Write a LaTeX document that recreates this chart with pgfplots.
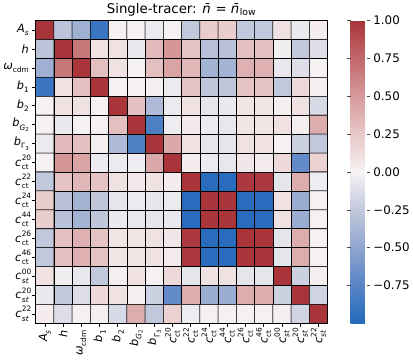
\documentclass[border=0pt]{standalone}
\usepackage{amsmath}
\usepackage{fontspec}
\setmainfont{DejaVu Sans}
\usepackage{pgfplots}
\pgfplotsset{compat=1.18}

% c with stacked super- and subscript, kept compact so labels fit their cells
\newcommand{\ssz}{\fontsize{7.5}{7.5}\selectfont}
\newcommand{\ct}[1]{\textit{c}\kern0.4pt\rlap{\raisebox{0.95ex}{\ssz #1}}\raisebox{-0.55ex}{\ssz ct}}
\newcommand{\st}[1]{\textit{c}\kern0.4pt\rlap{\raisebox{0.95ex}{\ssz #1}}\raisebox{-0.55ex}{\ssz\itshape st}}
\newcommand{\sub}[1]{\raisebox{-0.55ex}{\ssz #1}}

\begin{document}
\begin{tikzpicture}
\begin{axis}[
  scale only axis,
  width=296pt, height=307pt,
  xmin=-0.5, xmax=15.5, ymin=-0.5, ymax=15.5,
  y dir=reverse,
  enlargelimits=false,
  axis line style={line width=1.3pt},
  tick align=outside, tick pos=left,
  major tick length=3.5pt,
  tick style={black, line width=0.6pt},
  xtick={0,...,15}, ytick={0,...,15},
  xticklabels={\textit{A}\sub{\itshape s}, \textit{h}, \textit{ω}\sub{cdm},
    \textit{b}\sub{1}, \textit{b}\sub{2}, \textit{b}\sub{\itshape G\raisebox{-0.3ex}{\fontsize{5.5}{5.5}\selectfont\upshape 2}},
    \textit{b}\sub{Γ\raisebox{-0.3ex}{\fontsize{5.5}{5.5}\selectfont 3}}, \ct{20}, \ct{22}, \ct{24}, \ct{44}, \ct{26}, \ct{46},
    \st{00}, \st{20}, \st{22}},
  yticklabels={\textit{A}\sub{\itshape s}, \textit{h}, \textit{ω}\sub{cdm},
    \textit{b}\sub{1}, \textit{b}\sub{2}, \textit{b}\sub{\itshape G\raisebox{-0.3ex}{\fontsize{5.5}{5.5}\selectfont\upshape 2}},
    \textit{b}\sub{Γ\raisebox{-0.3ex}{\fontsize{5.5}{5.5}\selectfont 3}}, \ct{20}, \ct{22}, \ct{24}, \ct{44}, \ct{26}, \ct{46},
    \st{00}, \st{20}, \st{22}},
  tick label style={font=\fontsize{11.5}{13}\selectfont},
  xticklabel style={rotate=90, anchor=east},
  title={Single-tracer: \textit{n̄} = \textit{n̄}\textsubscript{low}},
  title style={font=\fontsize{13.5}{16}\selectfont, yshift=-5pt},
  colormap={vlag}{rgb255=(35,105,189) rgb255=(88,133,199) rgb255=(143,165,207)
    rgb255=(194,200,220) rgb255=(246,243,244) rgb255=(232,200,200)
    rgb255=(214,154,155) rgb255=(194,105,108) rgb255=(169,52,58)},
  point meta min=-1, point meta max=1,
  colorbar,
  colorbar style={
    at={(parent axis.north east)}, anchor=north west, xshift=15pt,
    width=16pt,
    axis line style={draw=none},
    ytick={-0.75,-0.5,-0.25,0,0.25,0.5,0.75,1},
    yticklabels={−0.75,−0.50,−0.25,0.00,0.25,0.50,0.75,1.00},
    yticklabel style={font=\fontsize{12}{14}\selectfont},
    tick align=outside, major tick length=3.5pt,
    tick style={black!70, line width=0.6pt},
  },
]
\addplot[matrix plot, draw=black, line width=0.6pt, mesh/cols=16, point meta=\thisrow{c}]
  table[row sep=\\] {
x y c \\
0 0 1 \\ 1 0 -0.28 \\ 2 0 -0.42 \\ 3 0 -0.88 \\ 4 0 0.02 \\ 5 0 0.02 \\ 6 0 -0.05 \\ 7 0 0.02 \\ 8 0 -0.25 \\ 9 0 0.22 \\ 10 0 0.22 \\ 11 0 -0.25 \\ 12 0 -0.25 \\ 13 0 0.10 \\ 14 0 -0.06 \\ 15 0 0.04 \\
0 1 -0.28 \\ 1 1 1 \\ 2 1 0.68 \\ 3 1 0.10 \\ 4 1 0.10 \\ 5 1 -0.06 \\ 6 1 0.33 \\ 7 1 0.52 \\ 8 1 0.28 \\ 9 1 -0.30 \\ 10 1 -0.30 \\ 11 1 0.30 \\ 12 1 0.30 \\ 13 1 -0.03 \\ 14 1 -0.25 \\ 15 1 -0.12 \\
0 2 -0.42 \\ 1 2 0.68 \\ 2 2 1 \\ 3 2 0.30 \\ 4 2 0.10 \\ 5 2 0.02 \\ 6 2 0.30 \\ 7 2 0.45 \\ 8 2 0.35 \\ 9 2 -0.40 \\ 10 2 -0.40 \\ 11 2 0.38 \\ 12 2 0.38 \\ 13 2 -0.07 \\ 14 2 -0.12 \\ 15 2 0.02 \\
0 3 -0.88 \\ 1 3 0.10 \\ 2 3 0.30 \\ 3 3 1 \\ 4 3 0.02 \\ 5 3 0.02 \\ 6 3 0.03 \\ 7 3 -0.05 \\ 8 3 0.28 \\ 9 3 -0.26 \\ 10 3 -0.26 \\ 11 3 0.28 \\ 12 3 0.28 \\ 13 3 -0.25 \\ 14 3 0.15 \\ 15 3 0.03 \\
0 4 0.02 \\ 1 4 0.10 \\ 2 4 0.10 \\ 3 4 0.02 \\ 4 4 1 \\ 5 4 0.30 \\ 6 4 -0.35 \\ 7 4 -0.05 \\ 8 4 0.10 \\ 9 4 -0.08 \\ 10 4 -0.06 \\ 11 4 0.08 \\ 12 4 0.08 \\ 13 4 0.03 \\ 14 4 0.10 \\ 15 4 -0.15 \\
0 5 0.02 \\ 1 5 -0.06 \\ 2 5 0.02 \\ 3 5 0.02 \\ 4 5 0.30 \\ 5 5 1 \\ 6 5 -0.80 \\ 7 5 -0.04 \\ 8 5 0.06 \\ 9 5 -0.05 \\ 10 5 -0.07 \\ 11 5 0.08 \\ 12 5 0.08 \\ 13 5 0.10 \\ 14 5 0.03 \\ 15 5 0.40 \\
0 6 -0.05 \\ 1 6 0.33 \\ 2 6 0.30 \\ 3 6 0.03 \\ 4 6 -0.35 \\ 5 6 -0.80 \\ 6 6 1 \\ 7 6 0.42 \\ 8 6 0.10 \\ 9 6 -0.08 \\ 10 6 -0.08 \\ 11 6 0.10 \\ 12 6 0.10 \\ 13 6 0.02 \\ 14 6 -0.20 \\ 15 6 -0.25 \\
0 7 0.02 \\ 1 7 0.52 \\ 2 7 0.45 \\ 3 7 -0.05 \\ 4 7 -0.05 \\ 5 7 -0.04 \\ 6 7 0.42 \\ 7 7 1 \\ 8 7 0.04 \\ 9 7 -0.05 \\ 10 7 -0.07 \\ 11 7 0.07 \\ 12 7 0.05 \\ 13 7 0.15 \\ 14 7 -0.70 \\ 15 7 0.20 \\
0 8 -0.25 \\ 1 8 0.28 \\ 2 8 0.35 \\ 3 8 0.28 \\ 4 8 0.10 \\ 5 8 0.06 \\ 6 8 0.10 \\ 7 8 0.04 \\ 8 8 1 \\ 9 8 -0.97 \\ 10 8 -0.97 \\ 11 8 0.98 \\ 12 8 0.98 \\ 13 8 -0.08 \\ 14 8 0.40 \\ 15 8 -0.04 \\
0 9 0.22 \\ 1 9 -0.30 \\ 2 9 -0.40 \\ 3 9 -0.26 \\ 4 9 -0.08 \\ 5 9 -0.05 \\ 6 9 -0.08 \\ 7 9 -0.05 \\ 8 9 -0.97 \\ 9 9 1 \\ 10 9 0.99 \\ 11 9 -0.97 \\ 12 9 -0.97 \\ 13 9 0.10 \\ 14 9 -0.45 \\ 15 9 0.02 \\
0 10 0.22 \\ 1 10 -0.30 \\ 2 10 -0.40 \\ 3 10 -0.26 \\ 4 10 -0.06 \\ 5 10 -0.07 \\ 6 10 -0.08 \\ 7 10 -0.07 \\ 8 10 -0.97 \\ 9 10 0.99 \\ 10 10 1 \\ 11 10 -0.97 \\ 12 10 -0.97 \\ 13 10 0.10 \\ 14 10 -0.45 \\ 15 10 0.02 \\
0 11 -0.25 \\ 1 11 0.30 \\ 2 11 0.38 \\ 3 11 0.28 \\ 4 11 0.08 \\ 5 11 0.08 \\ 6 11 0.10 \\ 7 11 0.07 \\ 8 11 0.98 \\ 9 11 -0.97 \\ 10 11 -0.97 \\ 11 11 1 \\ 12 11 0.99 \\ 13 11 -0.08 \\ 14 11 0.40 \\ 15 11 0.02 \\
0 12 -0.25 \\ 1 12 0.30 \\ 2 12 0.38 \\ 3 12 0.28 \\ 4 12 0.08 \\ 5 12 0.08 \\ 6 12 0.10 \\ 7 12 0.05 \\ 8 12 0.98 \\ 9 12 -0.97 \\ 10 12 -0.97 \\ 11 12 0.99 \\ 12 12 1 \\ 13 12 -0.08 \\ 14 12 0.40 \\ 15 12 0.02 \\
0 13 0.10 \\ 1 13 -0.03 \\ 2 13 -0.07 \\ 3 13 -0.25 \\ 4 13 0.03 \\ 5 13 0.10 \\ 6 13 0.02 \\ 7 13 0.15 \\ 8 13 -0.08 \\ 9 13 0.10 \\ 10 13 0.10 \\ 11 13 -0.08 \\ 12 13 -0.08 \\ 13 13 1 \\ 14 13 -0.20 \\ 15 13 0.03 \\
0 14 -0.06 \\ 1 14 -0.25 \\ 2 14 -0.12 \\ 3 14 0.15 \\ 4 14 0.10 \\ 5 14 0.03 \\ 6 14 -0.20 \\ 7 14 -0.70 \\ 8 14 0.40 \\ 9 14 -0.45 \\ 10 14 -0.45 \\ 11 14 0.40 \\ 12 14 0.40 \\ 13 14 -0.20 \\ 14 14 1 \\ 15 14 -0.18 \\
0 15 0.04 \\ 1 15 -0.12 \\ 2 15 0.02 \\ 3 15 0.03 \\ 4 15 -0.15 \\ 5 15 0.40 \\ 6 15 -0.25 \\ 7 15 0.20 \\ 8 15 -0.04 \\ 9 15 0.02 \\ 10 15 0.02 \\ 11 15 0.02 \\ 12 15 0.02 \\ 13 15 0.03 \\ 14 15 -0.18 \\ 15 15 1 \\
};
\end{axis}
\end{tikzpicture}
\end{document}
